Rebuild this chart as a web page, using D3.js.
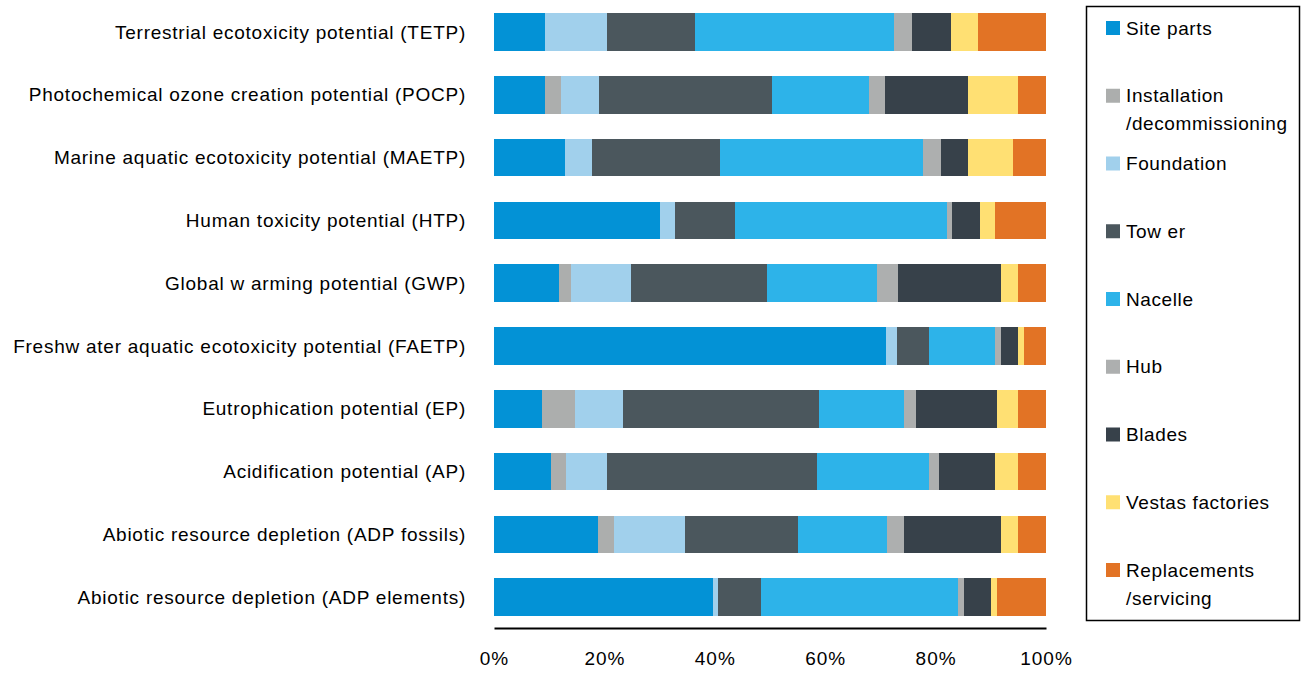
<!DOCTYPE html>
<html><head><meta charset="utf-8">
<script src="https://cdn.jsdelivr.net/npm/d3@7"></script>
<style>body{margin:0;background:#fff;} svg{display:block;font-family:"Liberation Sans",Arial,sans-serif;}</style>
</head><body>
<svg id="c" width="1304" height="673"></svg>
<script>
const categories = [
  "Terrestrial ecotoxicity potential (TETP)",
  "Photochemical ozone creation potential (POCP)",
  "Marine aquatic ecotoxicity potential (MAETP)",
  "Human toxicity potential (HTP)",
  "Global w arming potential (GWP)",
  "Freshw ater aquatic ecotoxicity potential (FAETP)",
  "Eutrophication potential (EP)",
  "Acidification potential (AP)",
  "Abiotic resource depletion (ADP fossils)",
  "Abiotic resource depletion (ADP elements)"
];
const seriesNames = ["Site parts","Installation /decommissioning","Foundation","Tow er","Nacelle","Hub","Blades","Vestas factories","Replacements /servicing"];
const sitePartsValues      = [9.2, 9.2, 12.9, 30.1, 11.8, 70.9, 8.7, 10.3, 18.8, 39.7];
const installationValues   = [0,   2.9, 0,    0,    2.1,  0,    6.0, 2.7,  2.9,  0];
const foundationValues     = [11.2,6.9, 4.9,  2.7,  10.9, 2.1,  8.7, 7.4,  12.9, 0.9];
const towerValues          = [16.1,31.3,23.2, 10.9, 24.7, 5.8,  35.5,38.1, 20.6, 7.8];
const nacelleValues        = [36.0,17.7,36.8, 38.5, 19.9, 11.9, 15.4,20.3, 16.0, 35.7];
const hubValues            = [3.3, 2.9, 3.2,  0.9,  3.8,  1.1,  2.2, 1.8,  3.1,  1.1];
const bladesValues         = [6.9, 15.0,4.9,  5.1,  18.6, 3.1,  14.7,10.1, 17.6, 4.9];
const vestasValues         = [5.0, 9.0, 8.2,  2.7,  3.1,  1.1,  3.8, 4.1,  3.1,  1.1];
const replacementsValues   = [12.3,5.1, 6.0,  9.2,  5.1,  3.9,  5.1, 5.1,  5.1,  8.8];
const tickValues = [0, 0.2, 0.4, 0.6, 0.8, 1.0];
const colors = ["#0392d6","#acaead","#a1d0ec","#4b575d","#2db3e9","#adafaf","#37414a","#ffe073","#e27325"];

const seriesValues = [sitePartsValues, installationValues, foundationValues, towerValues, nacelleValues, hubValues, bladesValues, vestasValues, replacementsValues];
const keys = seriesNames;
const rows = categories.map((c, i) => {
  const o = {cat: c};
  keys.forEach((k, j) => o[k] = seriesValues[j][i]);
  return o;
});
rows.forEach(r => { const t = d3.sum(keys, k => r[k]); keys.forEach(k => r[k] = r[k] / t); });

const svg = d3.select("#c");
const x = d3.scaleLinear().domain([0, 1]).range([494, 1046]);
const y = d3.scaleBand().domain(categories).range([0.6, 628.6]).paddingInner(0.4).paddingOuter(0.2);
const color = d3.scaleOrdinal().domain(keys).range(colors);

const stack = d3.stack().keys(keys)(rows);
svg.append("g").selectAll("g").data(stack).join("g")
  .attr("fill", d => color(d.key))
  .selectAll("rect").data(d => d).join("rect")
  .attr("x", d => x(d[0]))
  .attr("y", d => y(d.data.cat))
  .attr("width", d => Math.max(0, x(d[1]) - x(d[0])))
  .attr("height", y.bandwidth())
  .attr("shape-rendering", "crispEdges");

// category labels
svg.append("g").selectAll("text").data(categories).join("text")
  .attr("x", 466).attr("y", d => y(d) + y.bandwidth() / 2)
  .attr("dy", "0.35em").attr("text-anchor", "end")
  .attr("font-size", 19).attr("letter-spacing", 0.75).attr("fill", "#000").text(d => d);

// x axis
const xAxis = d3.axisBottom(x).tickValues(tickValues).tickFormat(d3.format(".0%")).tickSize(0).tickPadding(24);
const ax = svg.append("g").attr("transform", "translate(0,628)").call(xAxis);
ax.select(".domain").attr("stroke", "#000").attr("stroke-width", 2);
ax.selectAll("text").attr("font-size", 19).attr("letter-spacing", 1).attr("font-family", "'Liberation Sans',Arial,sans-serif").attr("fill", "#000");

// legend
svg.append("rect").attr("x", 1086.5).attr("y", 6.5).attr("width", 213).attr("height", 614)
  .attr("fill", "none").attr("stroke", "#000").attr("stroke-width", 1.5);
const legY = d3.scalePoint().domain(keys).range([28, 570]);
const lg = svg.append("g").selectAll("g").data(keys).join("g")
  .attr("transform", d => `translate(1106,${legY(d)})`);
lg.append("rect").attr("x", 0).attr("y", -7).attr("width", 14).attr("height", 14).attr("fill", d => color(d));
lg.append("text").attr("x", 20).attr("font-size", 19).attr("letter-spacing", 0.6).attr("fill", "#000")
  .selectAll("tspan").data(d => d.split(" /").map((s, i) => i ? "/" + s : s)).join("tspan")
  .attr("x", 20).attr("dy", (d, i) => i ? 28 : 6.5).text(d => d);
</script>
</body></html>
